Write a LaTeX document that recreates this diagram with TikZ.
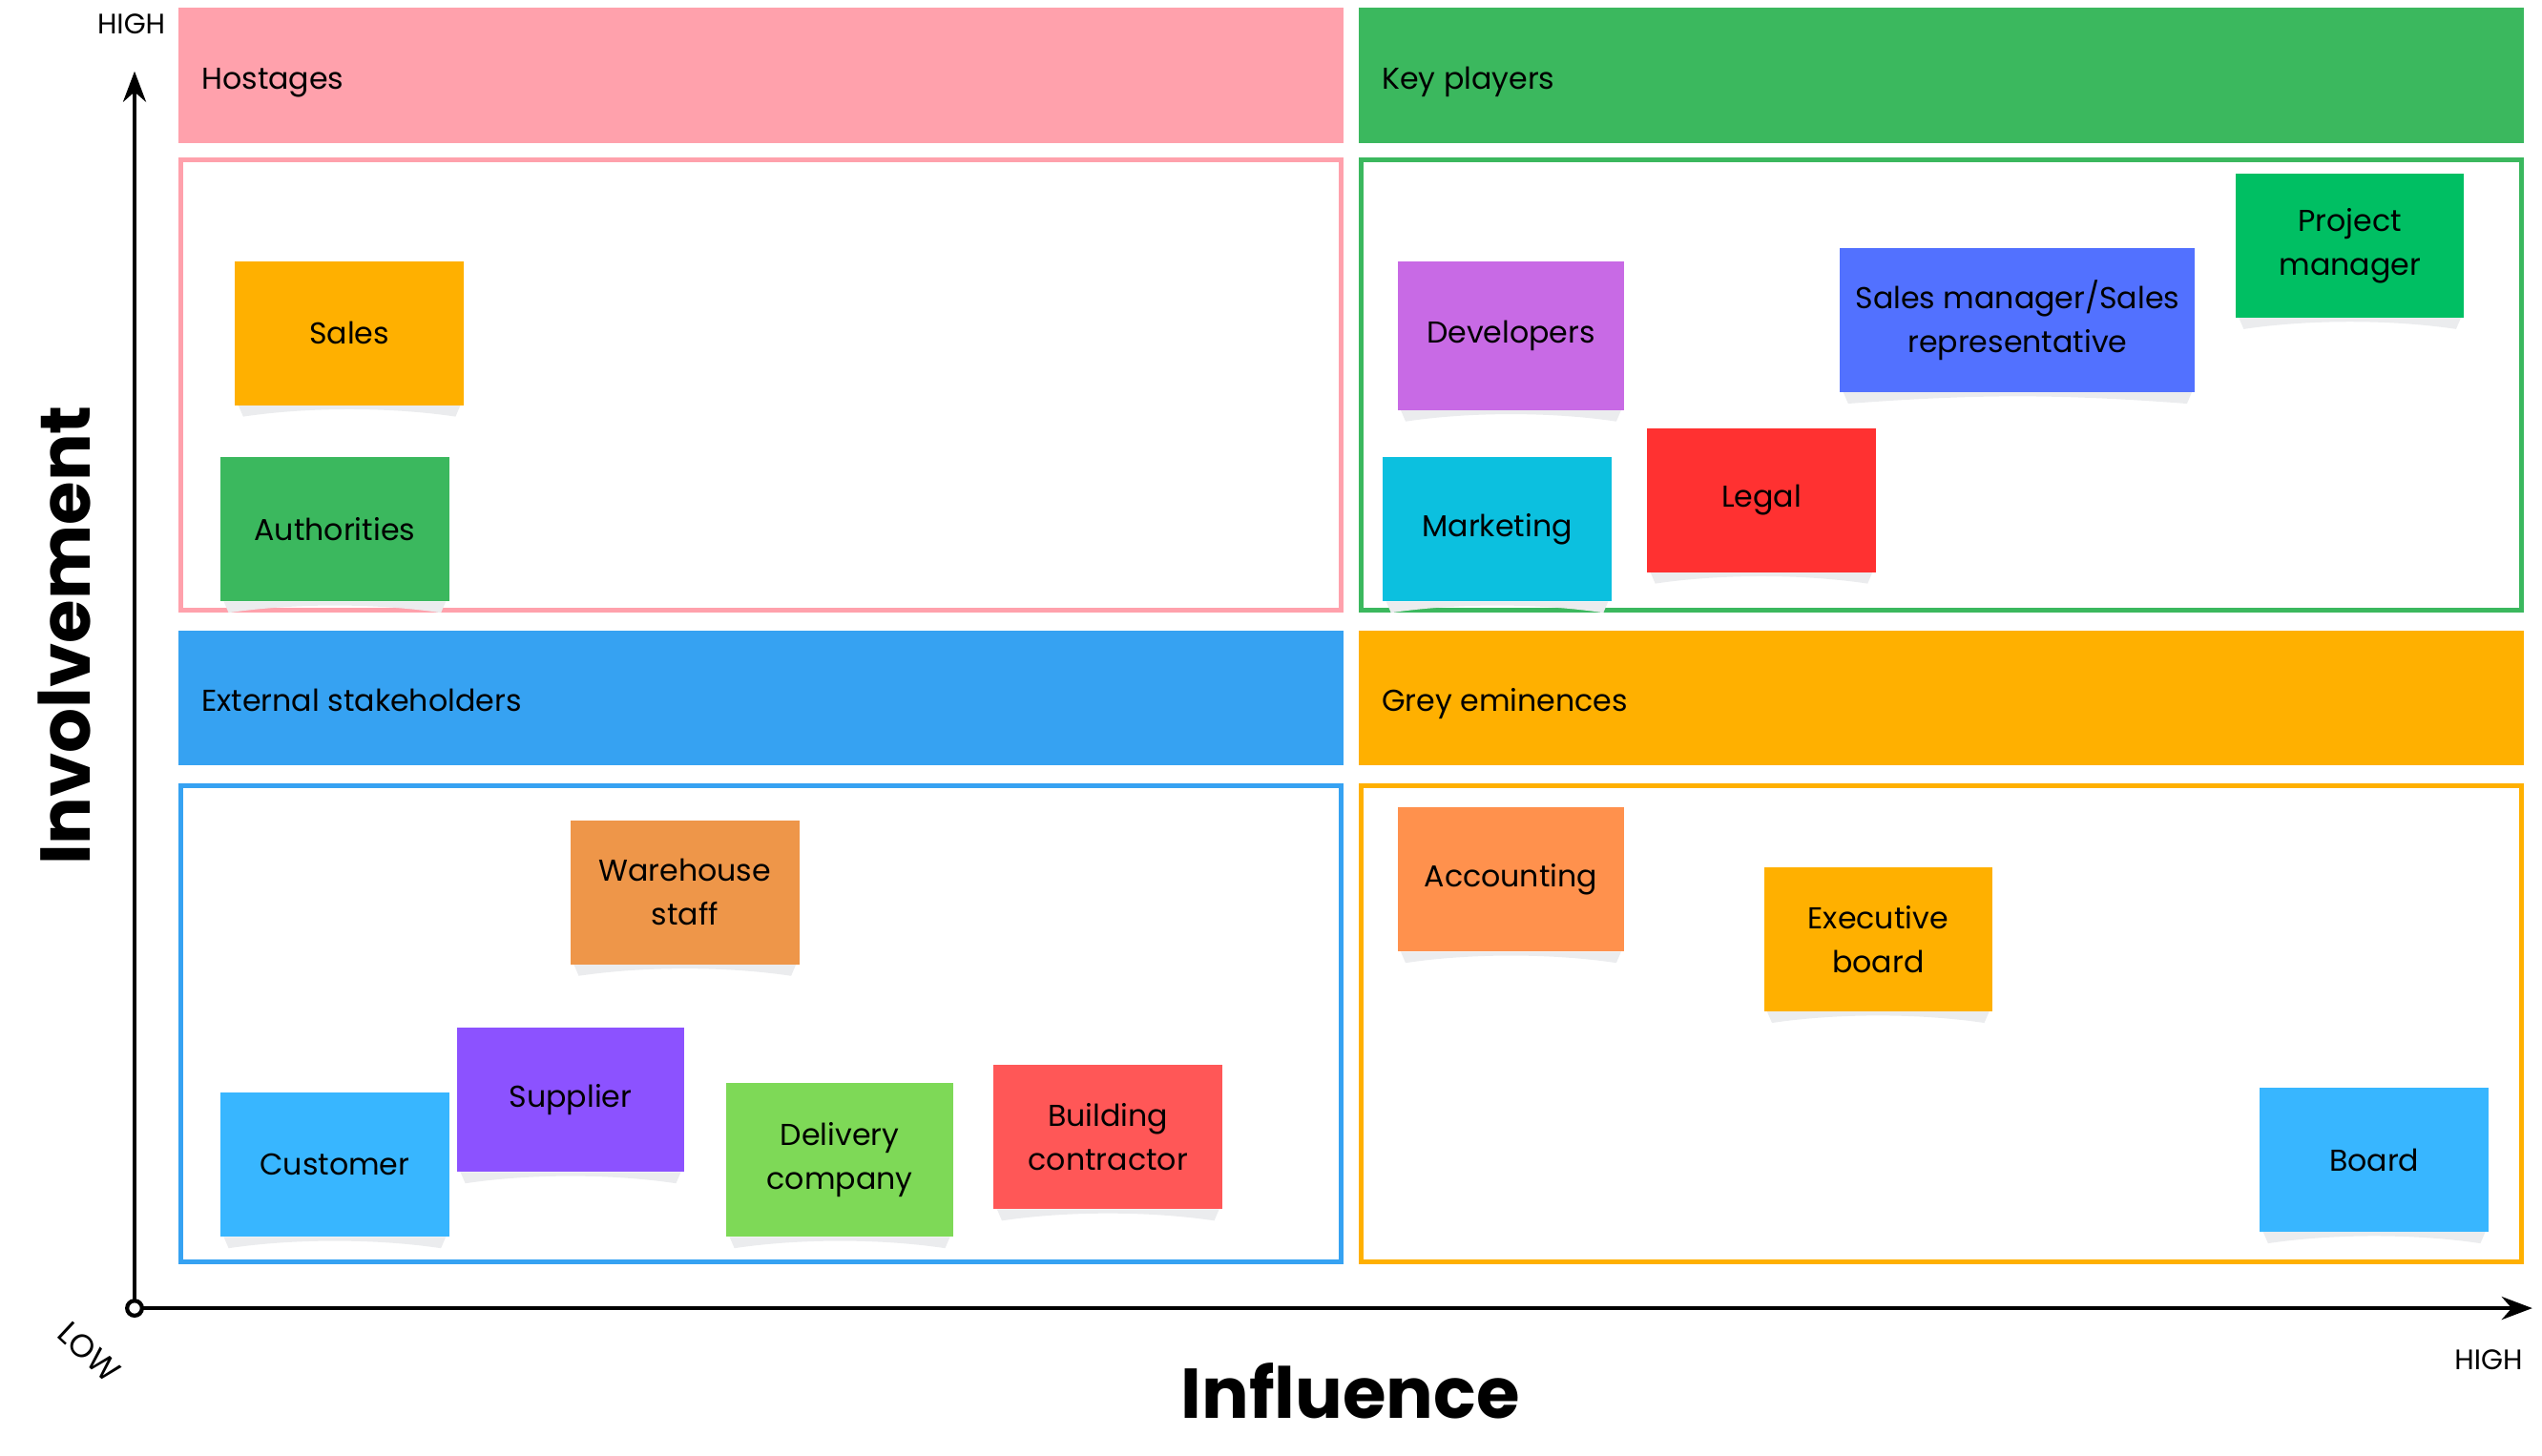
\documentclass[tikz,border=0pt]{standalone}
\usepackage{fontspec}
\setmainfont{Poppins}
\usepackage{xcolor}
\usepackage{tikz}
\usetikzlibrary{arrows.meta, positioning}

\definecolor{hostpink}{HTML}{FFA1AC}
\definecolor{keygreen}{HTML}{3BB85E}
\definecolor{extblue}{HTML}{36A2F2}
\definecolor{greyamber}{HTML}{FFB000}
\definecolor{devpurple}{HTML}{C86AE5}
\definecolor{salesblue}{HTML}{5271FF}
\definecolor{pmgreen}{HTML}{00BF63}
\definecolor{mktcyan}{HTML}{0CC0DF}
\definecolor{legalred}{HTML}{FF3131}
\definecolor{wareorange}{HTML}{EE9649}
\definecolor{suppurple}{HTML}{8C52FF}
\definecolor{custblue}{HTML}{38B6FF}
\definecolor{delgreen}{HTML}{7ED957}
\definecolor{buildred}{HTML}{FF5757}
\definecolor{accorange}{HTML}{FF914D}
\definecolor{curlgrey}{HTML}{EBECEE}

\begin{document}
\begin{tikzpicture}[
    x=0.01699cm, y=-0.01699cm,
    every node/.style={font=\fontsize{9}{13}\selectfont},
    header/.style={anchor=base west, inner sep=0pt},
    frame/.style={line width=1.45pt},
    sticky/.style={inner sep=0pt, align=center},
    curl/.style={fill=curlgrey},
    axis/.style={-{Stealth[length=3.2mm, width=2.4mm]}, line width=1.2pt},
    tag/.style={font=\fontsize{8.4}{10}\selectfont},
    title/.style={font=\fontsize{21}{24}\selectfont\bfseries}
]
    \useasboundingbox (0,0) rectangle (1568,898);

    % Quadrant headers
    \fill[hostpink] (110,5) rectangle (829,88);
    \node[header] (hostages) at (124,55) {Hostages};
    \fill[keygreen] (838,5) rectangle (1557,88);
    \node[header] (keyplayers) at (852,55) {Key players};
    \fill[extblue] (110,389) rectangle (829,472);
    \node[header] (external) at (124,439) {External stakeholders};
    \fill[greyamber] (838,389) rectangle (1557,472);
    \node[header] (eminences) at (852,439) {Grey eminences};

    % Quadrant frames
    \draw[frame, hostpink] (111.5,98.5) rectangle (827.5,376.5);
    \draw[frame, keygreen] (839.5,98.5) rectangle (1555.5,376.5);
    \draw[frame, extblue] (111.5,484.5) rectangle (827.5,778.5);
    \draw[frame, greyamber] (839.5,484.5) rectangle (1555.5,778.5);

    % Sticky notes
    \foreach \nm/\xa/\ya/\xb/\yb/\col/\txt in {
        sales/145/161/286/250/greyamber/{Sales},
        authorities/136/282/277/371/keygreen/{Authorities},
        developers/862/161/1002/253/devpurple/{Developers},
        salesmgr/1135/153/1354/242/salesblue/{Sales manager/Sales\\representative},
        projmgr/1379/107/1520/196/pmgreen/{Project\\manager},
        marketing/853/282/994/371/mktcyan/{Marketing},
        legal/1016/264/1157/353/legalred/{Legal},
        warehouse/352/506/493/595/wareorange/{Warehouse\\staff},
        supplier/282/634/422/723/suppurple/{Supplier},
        customer/136/674/277/763/custblue/{Customer},
        delivery/448/668/588/763/delgreen/{Delivery\\company},
        building/613/657/754/746/buildred/{Building\\contractor},
        accounting/862/498/1002/587/accorange/{Accounting},
        executive/1088/535/1229/624/greyamber/{Executive\\board},
        board/1394/671/1535/760/custblue/{Board}}
    {
        \pgfmathsetmacro\cx{(\xa+\xb)/2}
        \pgfmathsetmacro\cy{(\ya+\yb)/2}
        \pgfmathsetmacro\nw{(\xb-\xa)*0.01699}
        \pgfmathsetmacro\nh{(\yb-\ya)*0.01699}
        \fill[curl] (\xa+2,\yb) -- (\xb-2,\yb) -- (\xb-5,\yb+7)
            .. controls (\cx+25,\yb+1) and (\cx-25,\yb+1) .. (\xa+5,\yb+7) -- cycle;
        \node[sticky, fill=\col, minimum width=\nw cm, minimum height=\nh cm]
            (\nm) at (\cx,\cy) {\txt};
    }

    % Axes
    \coordinate (origin) at (83,807);
    \coordinate (ytop) at (83,44);
    \coordinate (xend) at (1562,807);
    \draw[axis] (origin) -- (ytop);
    \draw[axis] (origin) -- (xend);
    \draw[line width=1.2pt, fill=white] (origin) circle[radius=4.6];

    % Axis labels
    \node[tag] (yhigh) at (81,15) {HIGH};
    \node[tag] (xhigh) at (1535,839) {HIGH};
    \node[tag, font=\fontsize{9.6}{11}\selectfont, rotate=-43] (low) at (55,834) {LOW};
    \node[title] (influence) at (833,858) {Influence};
    \node[title, rotate=90] (involvement) at (40,392) {Involvement};

\end{tikzpicture}
\end{document}
